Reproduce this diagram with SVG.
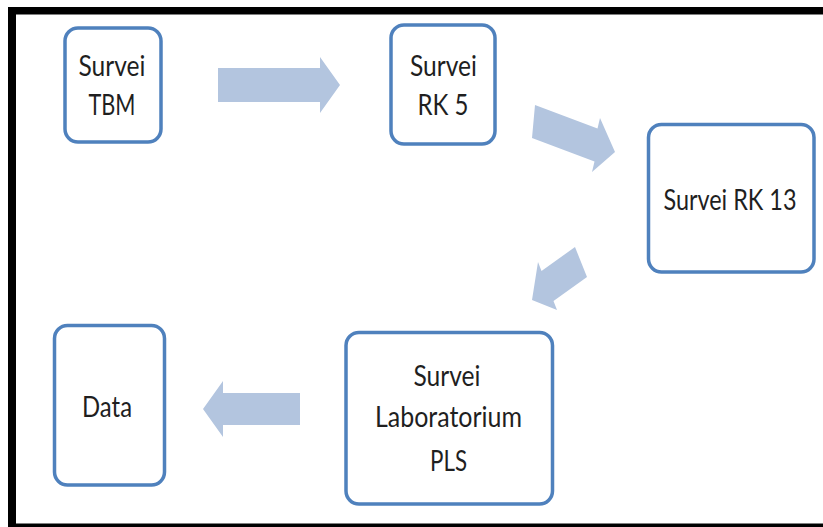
<svg xmlns="http://www.w3.org/2000/svg" width="823" height="527" viewBox="0 0 823 527">
<style>
.box{fill:#fff;stroke:#4F81BD;stroke-width:3.5}
.arr{fill:#B3C5DF}
.t{font-family:Lato,"Open Sans","Liberation Sans",sans-serif;font-size:28px;fill:#1f1f1f;text-anchor:middle}
</style>
<rect x="0" y="0" width="823" height="527" fill="#fff"/>
<g id="frame" fill="#000">
<rect x="8" y="7" width="815" height="7.5"/>
<rect x="8" y="7" width="8" height="520"/>
<rect x="8" y="523.5" width="815" height="3.5"/>
</g>
<g id="connectors">
<polygon class="arr" points="218,68 320,68 320,57 340,85 320,113 320,102 218,102"/>
<polygon class="arr" points="535,105 597.5,128.5 600,118 615,152 592,172 594.5,161.5 532,138"/>
<polygon class="arr" points="575,247 587,277 553.5,301 557,310 532,300 538,262 541.5,271"/>
<polygon class="arr" points="300,393 223,393 223,381 203,409 223,437 223,425 300,425"/>
</g>
<g id="n-tbm">
<rect class="box" x="65" y="28" width="96" height="114" rx="13"/>
<text class="t" x="112" y="76" textLength="67" lengthAdjust="spacingAndGlyphs">Survei</text>
<text class="t" x="112" y="115" textLength="47" lengthAdjust="spacingAndGlyphs">TBM</text>
</g>
<g id="n-rk5">
<rect class="box" x="391" y="25" width="104" height="119" rx="13"/>
<text class="t" x="443.5" y="76" textLength="67" lengthAdjust="spacingAndGlyphs">Survei</text>
<text class="t" x="443" y="115" textLength="51" lengthAdjust="spacingAndGlyphs">RK 5</text>
</g>
<g id="n-rk13">
<rect class="box" x="648.5" y="124.5" width="165.5" height="147.5" rx="13"/>
<text class="t" x="730" y="210" textLength="133" lengthAdjust="spacingAndGlyphs">Survei RK 13</text>
</g>
<g id="n-data">
<rect class="box" x="54.5" y="325.5" width="110" height="159.5" rx="13"/>
<text class="t" x="107" y="417" textLength="50" lengthAdjust="spacingAndGlyphs">Data</text>
</g>
<g id="n-pls">
<rect class="box" x="346" y="332.5" width="206.5" height="171.5" rx="13"/>
<text class="t" x="447" y="386" textLength="67" lengthAdjust="spacingAndGlyphs">Survei</text>
<text class="t" x="448.5" y="427" textLength="147" lengthAdjust="spacingAndGlyphs">Laboratorium</text>
<text class="t" x="448.5" y="471" textLength="37" lengthAdjust="spacingAndGlyphs">PLS</text>
</g>
</svg>
